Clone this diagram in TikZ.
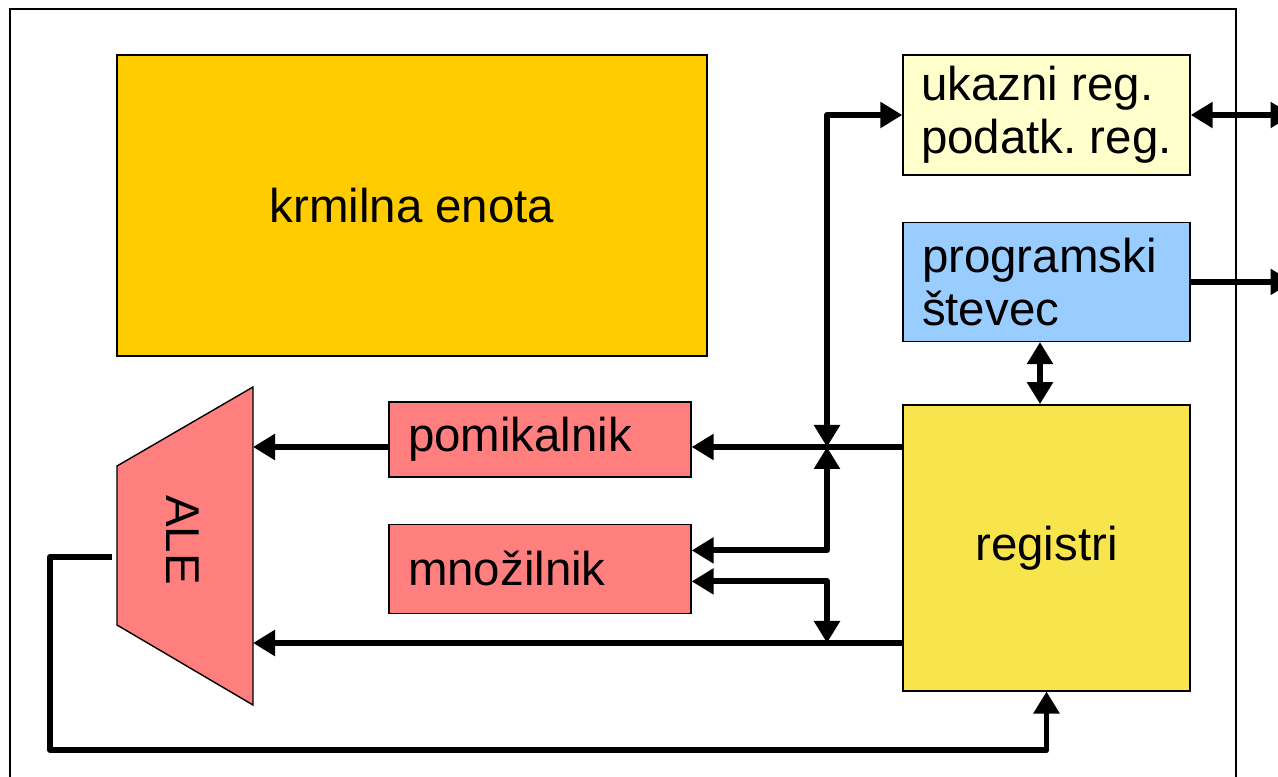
\documentclass[tikz,border=0pt]{standalone}
\usepackage{fontspec}
\setmainfont{Liberation Sans}
\usetikzlibrary{
	arrows.meta,
	positioning
}
\definecolor{ctrlgold}{HTML}{FFCC00}
\definecolor{reglight}{HTML}{FFFFCC}
\definecolor{pcblue}{HTML}{99CCFF}
\definecolor{regyellow}{RGB}{248,228,76}
\definecolor{alupink}{HTML}{FF7F7F}

\begin{document}
\begin{tikzpicture}[
		box/.style={draw, line width=0.8pt, inner xsep=0.38cm, inner ysep=0pt, font=\fontsize{27}{30}\selectfont\frenchspacing},
		lbox/.style={box, align=left, text width=#1},
		bus/.style={line width=3.4pt, line join=round, -{Triangle[length=0.44cm,width=0.5cm]}},
		bibus/.style={bus, {Triangle[length=0.44cm,width=0.5cm]}-{Triangle[length=0.44cm,width=0.5cm]}}
		]
		\useasboundingbox (0,0) rectangle (25.56,15.52);
		\draw[line width=0.8pt] (0.2,-1) rectangle (24.72,15.34);
		
		\node[box, fill=ctrlgold, minimum width=11.8cm, minimum height=6.02cm] (krmilna) at (8.24,11.41) {krmilna enota};
		
		\node[box, align=left, inner xsep=0.3cm, fill=reglight, minimum width=5.74cm, minimum height=2.40cm] (ukazni) at (20.93,13.22) {ukazni reg.\\podatk.\ reg.};
		
		\node[lbox=4.98cm, fill=pcblue, minimum height=2.38cm, below=0.92cm of ukazni] (stevec) {programski\\števec};
		
		\node[box, fill=regyellow, minimum width=5.74cm, minimum height=5.72cm, below=1.24cm of stevec] (registri) {registri};
		
		\node[lbox=5.28cm, fill=alupink, minimum height=1.50cm] (pomik) at (10.80,6.73) {pomikalnik};
		
		\node[lbox=5.28cm, fill=alupink, minimum height=1.78cm, below=0.92cm of pomik] (mnoz) {množilnik};
		
		% ALE
		\coordinate (aleNE) at (5.06,7.78);
		\coordinate (aleNW) at (2.34,6.20);
		\coordinate (aleSW) at (2.34,3.02);
		\coordinate (aleSE) at (5.06,1.42);
		\draw[line width=0.8pt, fill=alupink] (aleNE) -- (aleNW) -- (aleSW) -- (aleSE) -- cycle;
		\node[rotate=-90, font=\fontsize{27}{30}\selectfont] (ale) at (3.66,4.72) {ALE};
		
		\coordinate (jn) at (16.54,6.58);
		\coordinate (jl) at (16.54,2.66);
		\coordinate (aleout) at (2.24,4.38);
		\coordinate (loop) at (1.0,0.52);
		\coordinate (rim) at (25.85,0);
		
		\draw[bibus] (jn) |- (ukazni.west);
		\draw[bus] (registri.west |- jn) -- (pomik.east |- jn);
		\draw[bus] (pomik.west |- jn) -- (aleNE |- jn);
		\draw[bibus] ([yshift=0.37cm]mnoz.east) -| (jn);
		\draw[bibus] ([yshift=-0.25cm]mnoz.east) -| (jl);
		\draw[bus] (registri.west |- jl) -- (aleNE |- jl);
		\draw[bus] (aleout) -| (loop) -| (registri.south);
		\draw[bibus] ([xshift=-0.13cm]stevec.south) -- ([xshift=-0.13cm]registri.north);
		\draw[bibus] (ukazni.east) -- (ukazni.east -| rim);
		\draw[bus] (stevec.east) -- (stevec.east -| rim);
		
	\end{tikzpicture}
\end{document}
